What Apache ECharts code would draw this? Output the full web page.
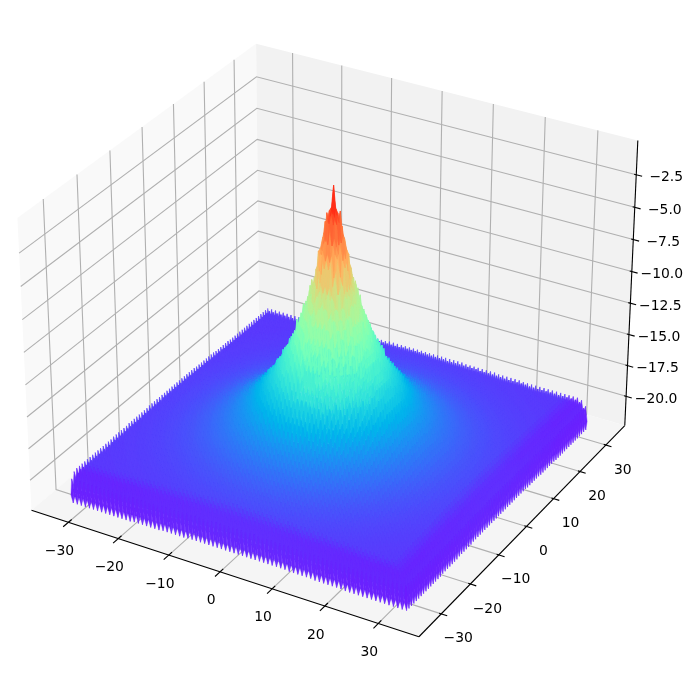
<!DOCTYPE html>
<html>
<head>
<meta charset="utf-8">
<style>
    html, body { margin: 0; padding: 0; background: #fff; }
    #main { width: 687px; height: 686px; }
</style>
<script src="https://cdn.jsdelivr.net/npm/echarts@6/dist/echarts.min.js"></script>
</head>
<body>
<div id="main"></div>
<script>
// axis ranges and ticks
const xLim = [-37.5, 37.5];
const yLim = [-37.5, 37.5];
const zLim = [-22.4, 0.1];
const xTicks = [-30, -20, -10, 0, 10, 20, 30];
const yTicks = [-30, -20, -10, 0, 10, 20, 30];
const zTicks = [-20, -17.5, -15, -12.5, -10, -7.5, -5, -2.5];
const zTickLabels = ['−20.0', '−17.5', '−15.0', '−12.5', '−10.0', '−7.5', '−5.0', '−2.5'];

// surface samples: height for every half unit of radius
const gridX = [];
const gridY = [];
for (let k = -80; k < 80; k++) gridX.push(k * 0.41);
for (let k = -79; k <= 80; k++) gridY.push(k * 0.41);

const radialZ = [
    -0.4, -1.3, -2.4, -3.3, -4.4, -5.5, -6.7, -7.6, -8.3, -9, -9.6, -10.2, -10.8, -11.5, -12, -12.5,
    -12.9, -13.3, -13.7, -14.1, -14.5, -14.8, -15.1, -15.4, -15.7, -15.95, -16.2, -16.45, -16.7, -16.9,
    -17.1, -17.3, -17.45, -17.6, -17.75, -17.9, -18.05, -18.15, -18.3, -18.4, -18.5, -18.6, -18.7, -18.8,
    -18.9, -18.95, -19.05, -19.1, -19.2, -19.25, -19.3, -19.35, -19.4, -19.45, -19.5, -19.55, -19.6, -19.6,
    -19.65, -19.7, -19.7, -19.75, -19.75, -19.8, -19.8, -19.85, -19.85, -19.85, -19.9, -19.9, -19.9, -19.9,
    -19.95, -19.95, -19.95, -19.95, -19.95, -20, -20, -20, -20, -20, -20, -20, -20, -20, -20, -20,
    -20, -20, -20, -20, -20, -20, -20, -20, -20, -20, -20, -20, -20, -20, -20
];
// drop of a sample below the radial height: odd or even step along x and y
const rippleDrop = [[0, -0.8], [-0.8, -1.4]];
// the rows along the two front edges hang lower, first value is the outermost row
const frontRimDrop = [-0.9, -0.5, -0.25, -0.1];
// and they look more purple, in parts of the colour scale
const frontRimTint = [0, 0.008, 0.016, 0.022, 0.026, 0.026, 0.024, 0.02, 0.016, 0.012, 0.008, 0.004];
// limits of the colour scale
const colorLow = -22.35;
const colorHigh = -0.6;

// mplot3d style camera, elev 30 azim -60
const boxHalf = [0.595, 0.595, 0.4465];
const dist = 10;
const u = [0.866025, 0.5, 0];
const v = [-0.25, 0.433013, 0.866025];
const w = [0.433013, -0.75, 0.5];
const scale = 3730, originX = 333.6, originY = 326;

function view(x, y, z) {
    const q = [
        ((x - xLim[0]) / (xLim[1] - xLim[0]) * 2 - 1) * boxHalf[0],
        ((y - yLim[0]) / (yLim[1] - yLim[0]) * 2 - 1) * boxHalf[1],
        ((z - zLim[0]) / (zLim[1] - zLim[0]) * 2 - 1) * boxHalf[2]
    ];
    const depth = dist - (q[0] * w[0] + q[1] * w[1] + q[2] * w[2]);
    return {
        px: originX + scale * (q[0] * u[0] + q[1] * u[1]) / depth,
        py: originY - scale * (q[0] * v[0] + q[1] * v[1] + q[2] * v[2]) / depth,
        depth: depth
    };
}

function rainbow(t) {
    t = Math.max(0, Math.min(1, t));
    const r = Math.min(1, Math.abs(2 * t - 0.5));
    const g = Math.sin(Math.PI * t);
    const b = Math.cos(Math.PI * t / 2);
    return 'rgb(' + Math.round(r * 255) + ',' + Math.round(g * 255) + ',' + Math.round(b * 255) + ')';
}

// height table
const n = gridX.length;
const heights = [];
for (let i = 0; i < n; i++) {
    const row = [];
    for (let j = 0; j < n; j++) {
        const bin = Math.round(Math.hypot(gridX[i], gridY[j]) * 2);
        const oddX = i % 2;        // i = 0 is a whole step from x = 0
        const oddY = (j + 1) % 2;  // gridY starts one step off
        const frontRow = Math.min(n - 1 - i, j);
        row.push(radialZ[bin] + rippleDrop[oddX][oddY] + (frontRimDrop[frontRow] || 0));
    }
    heights.push(row);
}

const quads = [];
for (let i = 0; i < n - 1; i++) {
    for (let j = 0; j < n - 1; j++) {
        const avg = (heights[i][j] + heights[i + 1][j] + heights[i][j + 1] + heights[i + 1][j + 1]) / 4;
        const c = view((gridX[i] + gridX[i + 1]) / 2, (gridY[j] + gridY[j + 1]) / 2, avg);
        quads.push([i, j, avg, c.depth]);
    }
}
quads.sort((a, b) => b[3] - a[3]);

const panes = [
    { c: [[xLim[0], yLim[0], zLim[0]], [xLim[0], yLim[1], zLim[0]], [xLim[0], yLim[1], zLim[1]], [xLim[0], yLim[0], zLim[1]]], fill: '#f9f9f9' },
    { c: [[xLim[0], yLim[1], zLim[0]], [xLim[1], yLim[1], zLim[0]], [xLim[1], yLim[1], zLim[1]], [xLim[0], yLim[1], zLim[1]]], fill: '#f2f2f2' },
    { c: [[xLim[0], yLim[0], zLim[0]], [xLim[1], yLim[0], zLim[0]], [xLim[1], yLim[1], zLim[0]], [xLim[0], yLim[1], zLim[0]]], fill: '#f5f5f5' }
];

// polylines in data space: grid, axis lines, ticks
const gridLines = [];
xTicks.forEach(t => gridLines.push([[t, yLim[0], zLim[0]], [t, yLim[1], zLim[0]], [t, yLim[1], zLim[1]]]));
yTicks.forEach(t => gridLines.push([[xLim[0], t, zLim[1]], [xLim[0], t, zLim[0]], [xLim[1], t, zLim[0]]]));
zTicks.forEach(t => gridLines.push([[xLim[0], yLim[0], t], [xLim[0], yLim[1], t], [xLim[1], yLim[1], t]]));

const axisLines = [
    [[xLim[0], yLim[0], zLim[0]], [xLim[1], yLim[0], zLim[0]]],
    [[xLim[1], yLim[0], zLim[0]], [xLim[1], yLim[1], zLim[0]]],
    [[xLim[1], yLim[1], zLim[0]], [xLim[1], yLim[1], zLim[1]]]
];
xTicks.forEach(t => axisLines.push([[t, yLim[0] + 1, zLim[0]], [t, yLim[0] - 1.6, zLim[0]]]));
yTicks.forEach(t => axisLines.push([[xLim[1] - 0.4, t, zLim[0]], [xLim[1] + 1.1, t, zLim[0]]]));
zTicks.forEach(t => axisLines.push([[xLim[1] - 0.4, yLim[1], t], [xLim[1] + 1.1, yLim[1], t]]));

const tickLabels = [];
xTicks.forEach(t => tickLabels.push({ p: [t, yLim[0], zLim[0]], text: String(t).replace('-', '−'), dx: -9, dy: 29 }));
yTicks.forEach(t => tickLabels.push({ p: [xLim[1], t, zLim[0]], text: String(t).replace('-', '−'), dx: 17, dy: 25 }));
zTicks.forEach((t, i) => tickLabels.push({ p: [xLim[1], yLim[1], t], text: zTickLabels[i], dx: 30, dy: 3 }));

function toPixel(api, p) {
    const s = view(p[0], p[1], p[2]);
    return api.coord([s.px, s.py]);
}

const chart = echarts.init(document.getElementById('main'));
chart.setOption({
    animation: false,
    backgroundColor: '#fff',
    grid: { left: 0, right: 0, top: 0, bottom: 0 },
    xAxis: { type: 'value', min: 0, max: 687, show: false },
    yAxis: { type: 'value', min: 0, max: 686, inverse: true, show: false },
    series: [
        {
            type: 'custom', coordinateSystem: 'cartesian2d', silent: true, z: 1, clip: false,
            data: panes.map((p, i) => [i]),
            renderItem(params, api) {
                const pane = panes[api.value(0)];
                return {
                    type: 'polygon',
                    shape: { points: pane.c.map(p => toPixel(api, p)) },
                    style: { fill: pane.fill }
                };
            }
        },
        {
            type: 'custom', coordinateSystem: 'cartesian2d', silent: true, z: 2, clip: false,
            data: gridLines.map((l, i) => [i]),
            renderItem(params, api) {
                return {
                    type: 'polyline',
                    shape: { points: gridLines[api.value(0)].map(p => toPixel(api, p)) },
                    style: { stroke: '#b0b0b0', lineWidth: 1.1, fill: null }
                };
            }
        },
        {
            type: 'custom', coordinateSystem: 'cartesian2d', silent: true, z: 3, clip: false,
            progressive: 0,
            data: quads,
            renderItem(params, api) {
                const i = api.value(0), j = api.value(1);
                const frontRow = Math.min(n - 2 - i, j);
                const tint = frontRimTint[frontRow] || 0;
                const color = rainbow((api.value(2) - colorLow) / (colorHigh - colorLow) - tint);
                const corners = [[i, j], [i + 1, j], [i + 1, j + 1], [i, j + 1]];
                return {
                    type: 'polygon',
                    shape: { points: corners.map(c => toPixel(api, [gridX[c[0]], gridY[c[1]], heights[c[0]][c[1]]])) },
                    style: { fill: color, stroke: color, lineWidth: 0.4 }
                };
            }
        },
        {
            type: 'custom', coordinateSystem: 'cartesian2d', silent: true, z: 4, clip: false,
            data: axisLines.map((l, i) => [i]),
            renderItem(params, api) {
                return {
                    type: 'polyline',
                    shape: { points: axisLines[api.value(0)].map(p => toPixel(api, p)) },
                    style: { stroke: '#000', lineWidth: 1.1, fill: null }
                };
            }
        },
        {
            type: 'custom', coordinateSystem: 'cartesian2d', silent: true, z: 5, clip: false,
            data: tickLabels.map((l, i) => [i]),
            renderItem(params, api) {
                const l = tickLabels[api.value(0)];
                const c = toPixel(api, l.p);
                return {
                    type: 'text',
                    style: {
                        x: c[0] + l.dx, y: c[1] + l.dy, text: l.text, fill: '#000',
                        fontFamily: 'DejaVu Sans', fontSize: 13.9, align: 'center', verticalAlign: 'middle'
                    }
                };
            }
        }
    ]
});
</script>
</body>
</html>
